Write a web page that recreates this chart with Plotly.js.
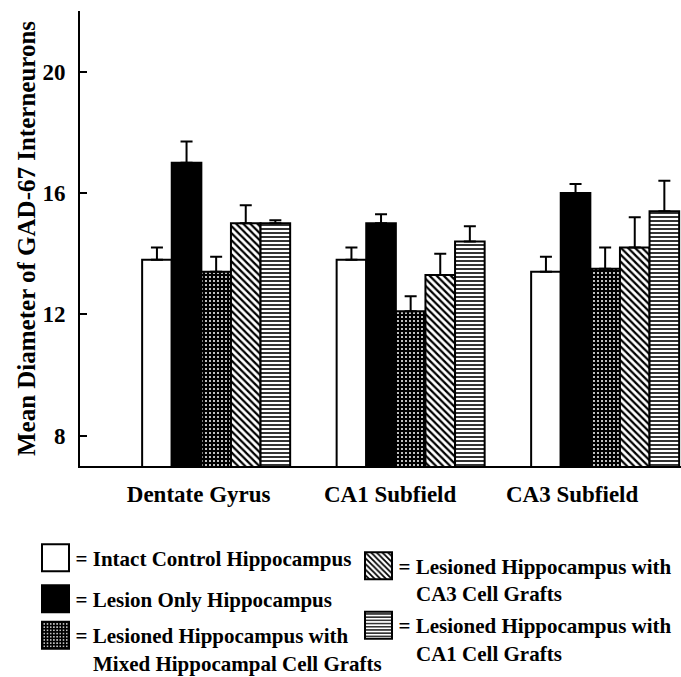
<!DOCTYPE html>
<html>
<head>
<meta charset="utf-8">
<script src="https://cdn.plot.ly/plotly-3.0.1.min.js"></script>
<style>html,body{margin:0;padding:0;background:#fff;}#chart{width:681px;height:677px;}</style>
</head>
<body>
<div id="chart"></div>
<script>
// ---- data ----
var categories = ["Dentate Gyrus", "CA1 Subfield", "CA3 Subfield"];
var seriesNames = [
  "= Intact Control Hippocampus",
  "= Lesion Only Hippocampus",
  "= Lesioned Hippocampus with<br>\u2002\u00A0\u200AMixed Hippocampal Cell Grafts",
  "= Lesioned Hippocampus with<br>\u2002\u00A0\u200ACA3 Cell Grafts",
  "= Lesioned Hippocampus with<br>\u2002\u00A0\u200ACA1 Cell Grafts"
];
var intactVals = [13.8, 13.8, 13.4];
var intactErr  = [0.4, 0.4, 0.5];
var lesionVals = [17.0, 15.0, 16.0];
var lesionErr  = [0.7, 0.3, 0.3];
var mixedVals  = [13.4, 12.1, 13.5];
var mixedErr   = [0.5, 0.5, 0.7];
var ca3Vals    = [15.0, 13.3, 14.2];
var ca3Err     = [0.6, 0.7, 1.0];
var ca1Vals    = [15.0, 14.4, 15.4];
var ca1Err     = [0.1, 0.5, 1.0];
var yTickVals  = [8, 12, 16, 20];

// ---- geometry helpers (layout only) ----
var W = 681, H = 677;
var M = {l: 80, r: 0, t: 11, b: 211};
var xRange = [-0.7, 2.39];
var plotW = W - M.l - M.r, plotH = H - M.t - M.b;
var pxPerCat = plotW / (xRange[1] - xRange[0]);
function px2paperX(p) { return (p - M.l) / plotW; }
function px2paperY(p) { return (H - M.b - p) / plotH; }
var labelShiftPx = [-17.5, -20.5, -33];

var FONT = "Liberation Serif, Times New Roman, serif";
var patterns = [
  {shape: "", fillmode: "replace"},
  {shape: "", fillmode: "replace"},
  {shape: ".", bgcolor: "#000", fgcolor: "#fff", size: 4, solidity: 0.2, fillmode: "replace"},
  {shape: "\\", bgcolor: "#fff", fgcolor: "#000", size: 5, solidity: 0.45, fillmode: "replace"},
  {shape: "-", bgcolor: "#fff", fgcolor: "#000", size: 4, solidity: 0.4, fillmode: "replace"}
];
var colors = ["#ffffff", "#000000", "#000000", "#ffffff", "#ffffff"];
var vals = [intactVals, lesionVals, mixedVals, ca3Vals, ca1Vals];
var errs = [intactErr, lesionErr, mixedErr, ca3Err, ca1Err];
var legendIds = ["legend", "legend2", "legend3", "legend4", "legend5"];

var traces = vals.map(function (v, i) {
  return {
    type: "bar",
    x: categories,
    y: v,
    name: seriesNames[i],
    legend: legendIds[i],
    marker: {color: colors[i], line: {color: "#000", width: 2}, pattern: patterns[i]},
    error_y: {type: "data", symmetric: false, array: errs[i],
              arrayminus: errs[i].map(function () { return 0; }),
              color: "#000", thickness: 2, width: 6},
    hoverinfo: "y"
  };
});

// legend placement (legend box top-left in px)
var legendPos = [
  {x: 35.5, top: 537.5},
  {x: 35.5, top: 578.5},
  {x: 35.5, top: 615},
  {x: 358.5, top: 545.5},
  {x: 358.5, top: 605}
];
function mkLegend(i) {
  return {
    x: px2paperX(legendPos[i].x), y: px2paperY(legendPos[i].top),
    xanchor: "left", yanchor: "top", xref: "paper", yref: "paper",
    bgcolor: "rgba(0,0,0,0)", borderwidth: 0, valign: "top",
    font: {family: FONT, size: 21, color: "#000", weight: "bold"}
  };
}

var layout = {
  width: W, height: H,
  margin: {l: M.l, r: M.r, t: M.t, b: M.b, autoexpand: false},
  paper_bgcolor: "#fff", plot_bgcolor: "#fff",
  barmode: "group", bargap: 0.239, bargroupgap: 0,
  showlegend: true,
  xaxis: {
    type: "category", range: xRange,
    showline: true, linecolor: "#000", linewidth: 2,
    ticks: "", showgrid: false, zeroline: false,
    tickmode: "array",
    tickvals: categories.map(function (c, i) { return i + labelShiftPx[i] / pxPerCat; }),
    ticktext: categories,
    ticklabelstandoff: 6,
    tickfont: {family: FONT, size: 23, color: "#000", weight: "bold"}
  },
  yaxis: {
    range: [7, 22],
    showline: true, linecolor: "#000", linewidth: 2,
    ticks: "inside", ticklen: 7, tickwidth: 2, tickcolor: "#000",
    tickmode: "array", tickvals: yTickVals,
    showgrid: false, zeroline: false,
    ticklabelstandoff: 8,
    tickfont: {family: FONT, size: 23, color: "#000", weight: "bold"},
    title: {text: "Mean Diameter of GAD-67 Interneurons", standoff: 0,
            font: {family: FONT, size: 25, color: "#000", weight: "bold"}}
  },
  legend: mkLegend(0), legend2: mkLegend(1), legend3: mkLegend(2),
  legend4: mkLegend(3), legend5: mkLegend(4)
};

Plotly.newPlot("chart", traces, layout, {staticPlot: true, displayModeBar: false}).then(function (gd) {
  // enlarge legend swatches to match the key boxes
  var paths = gd.querySelectorAll("g.legendpoints path");
  paths.forEach(function (p) { p.setAttribute("d", "M13.5,13.5H-13.5V-13.5H13.5Z"); });
});
</script>
</body>
</html>
